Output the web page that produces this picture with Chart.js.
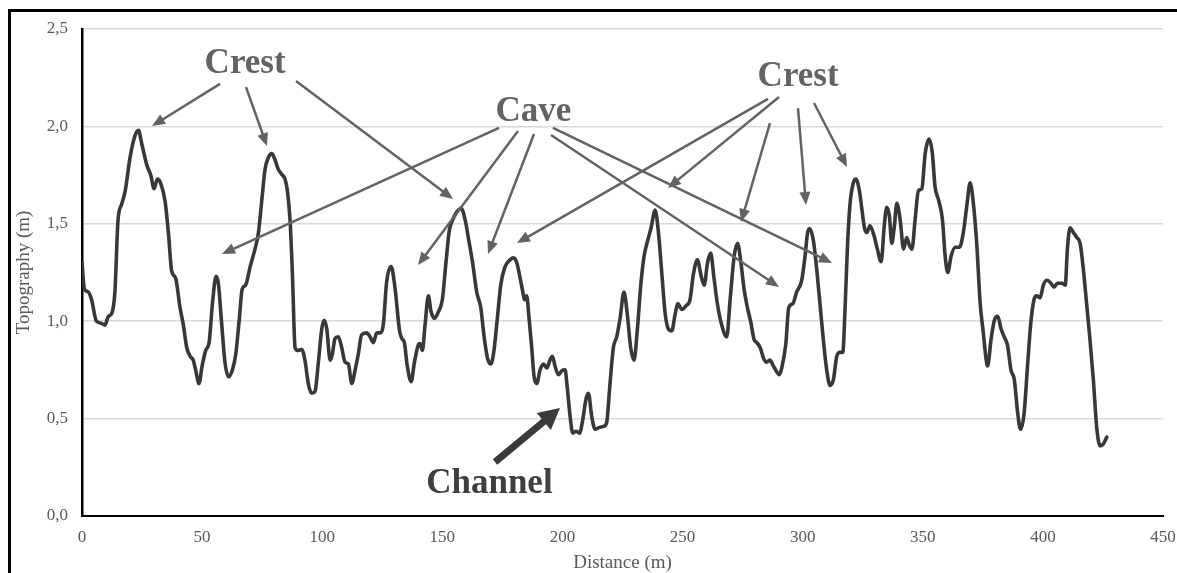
<!DOCTYPE html>
<html><head><meta charset="utf-8">
<style>html,body{margin:0;padding:0;background:#fff;}#wrap{width:1177px;height:573px;position:relative;}canvas{display:block;}</style>
<script src="https://cdn.jsdelivr.net/npm/chart.js@4.4.0/dist/chart.umd.min.js"></script>
</head><body><div id="wrap"><canvas id="c" width="1177" height="573"></canvas></div>
<script>
// ---- data ----
const distance = [0,1,2.6,4,6,8,9.5,11,12.4,13.7,15,16.5,18,20,22,23.5,24.8,27,28.6,30,31.4,32.7,34.6,36,37.3,39,40.8,42.2,43.6,45,46.3,47.3,48.7,50,51.5,52.9,54.3,55.8,56.8,58,59.5,61,62.6,64,65.4,66.7,68.1,70,72,73.4,74.8,76.2,77.6,79,80.3,81.7,83.1,84.5,85.5,86.6,87.6,88.7,89.8,91.5,92.8,94.2,95.6,97,98.4,99.8,100.8,101.9,103.3,104.2,105.3,106.7,108.1,109.5,110.9,112.3,113.7,115,116.4,118.5,119.9,121.3,122.7,124,125.4,126.8,128.7,130.3,132.2,133.2,134.2,135.4,137,138.4,139.9,140.7,141.7,142.8,144.2,145.3,146.7,148.4,150,151.5,152.9,154.3,156,157.8,159.5,160.8,162.6,164.3,166,167.4,168.8,170.2,171.5,172.9,174.3,176.1,178.2,179.6,181,182.4,183.5,184.2,185.1,186.1,187.2,188.2,189.3,190.7,192.1,193.5,194.8,195.8,196.9,198.3,199.7,201.1,202,203.2,204.3,205.7,207.1,208.4,209.8,210.8,212.2,213.6,215.4,217.1,218.4,219.8,221.2,222.6,224,225.6,227,228.4,229.8,231.2,232.6,234,235.4,236.9,238.6,240,241.4,242.8,244.1,245.5,246.9,248,249.7,251.5,253.1,254.5,256.2,257.6,259,260.4,261.7,263.1,264.5,266.3,268.4,269.8,271.5,272.9,274.3,275.6,277,278.4,279.8,280.9,282.3,283.7,285,286.4,287.8,289.5,290.3,291.3,293,294.2,295.9,297.5,299.6,301,302,303,304.5,305.9,307.2,308.6,310,311.4,312.8,314.2,315.6,316.7,317.6,318.6,319.7,321.1,322.2,323.6,324.6,325.7,326.7,328,329.7,331.1,332.7,333.9,335,336.1,337.1,338.1,339.2,340.6,342,343.3,344.4,345.5,346.8,348.2,349.6,351,352.6,354,355.1,356.5,358.2,359.3,360.4,361.8,363.5,365.3,367,368.4,369.7,371.1,372.5,373.9,375.2,376.3,377,378.4,379.8,381.2,382.6,383.9,385.3,386.7,388.1,389.5,390.7,392.2,393.6,395,396.3,397.4,398.8,400.2,401.6,403,404.7,406,407.9,409.3,410.2,411.3,412.7,414.1,415.5,416.9,418.2,419.6,421,422.4,423.8,425.2,426.6];
const topography = [1.30,1.165,1.15,1.11,1.0,0.99,0.98,1.025,1.04,1.15,1.52,1.6,1.67,1.84,1.95,1.98,1.915,1.80,1.75,1.68,1.73,1.71,1.615,1.45,1.26,1.22,1.07,0.98,0.865,0.82,0.80,0.75,0.68,0.77,0.85,0.89,1.09,1.23,1.19,1.01,0.79,0.715,0.75,0.83,1.0,1.165,1.185,1.28,1.37,1.45,1.615,1.78,1.84,1.86,1.83,1.78,1.755,1.73,1.67,1.52,1.24,0.865,0.85,0.855,0.80,0.68,0.63,0.64,0.79,0.96,1.005,0.96,0.80,0.83,0.91,0.92,0.865,0.79,0.78,0.68,0.75,0.83,0.93,0.94,0.92,0.89,0.94,0.94,0.98,1.2,1.28,1.17,0.95,0.91,0.89,0.77,0.69,0.79,0.875,0.885,0.85,0.98,1.13,1.05,1.015,1.05,1.11,1.30,1.465,1.52,1.56,1.58,1.52,1.43,1.30,1.15,1.07,0.92,0.81,0.78,0.85,1.015,1.185,1.28,1.315,1.325,1.30,1.22,1.15,1.11,1.13,1.015,0.865,0.715,0.68,0.75,0.78,0.76,0.80,0.82,0.77,0.725,0.745,0.75,0.66,0.51,0.425,0.435,0.425,0.49,0.60,0.63,0.51,0.445,0.455,0.46,0.48,0.68,0.865,0.92,1.015,1.15,1.035,0.865,0.80,0.96,1.185,1.335,1.41,1.48,1.57,1.45,1.24,1.035,0.96,0.95,1.035,1.09,1.06,1.08,1.11,1.24,1.315,1.24,1.185,1.30,1.35,1.22,1.09,0.98,0.92,1.11,1.335,1.40,1.30,1.165,1.07,0.995,0.905,0.89,0.865,0.81,0.79,0.80,0.77,0.735,0.725,0.76,0.885,1.07,1.09,1.15,1.21,1.335,1.45,1.475,1.41,1.26,1.09,0.905,0.75,0.67,0.70,0.82,0.84,0.84,1.05,1.37,1.60,1.71,1.73,1.67,1.58,1.48,1.455,1.49,1.44,1.37,1.305,1.48,1.585,1.54,1.40,1.48,1.605,1.52,1.37,1.43,1.39,1.37,1.52,1.67,1.68,1.86,1.935,1.86,1.69,1.625,1.52,1.335,1.25,1.335,1.38,1.38,1.465,1.60,1.71,1.60,1.39,1.09,0.94,0.81,0.77,0.905,1.005,1.025,0.96,0.92,0.875,0.75,0.70,0.53,0.445,0.53,0.77,0.995,1.11,1.13,1.12,1.185,1.21,1.20,1.175,1.195,1.195,1.185,1.37,1.48,1.455,1.43,1.40,1.26,1.09,0.905,0.70,0.455,0.36,0.37,0.405];
const xTicks = [0,50,100,150,200,250,300,350,400,450];
const yTicks = [0,0.5,1,1.5,2,2.5];
// annotation labels (anchor in data units: distance, topography)
const labelTexts = ['Crest','Cave','Crest','Channel'];
const labelAtX = [67.9,187.9,298.1,169.6];
const labelAtY = [2.274,2.028,2.207,0.118];
// thin arrows: from (fx,fy) to (tx,ty) in data units
const arrowFromX = [57.45,68.27,89.08,173.59,181.5,188.16,195.24,196.07,290.15,285.57,286.4,298.06,304.72];
const arrowFromY = [2.218,2.202,2.233,1.992,1.976,1.961,1.956,1.992,2.151,2.141,2.017,2.094,2.12];
const arrowToX   = [29.14,77.01,154.44,58.28,139.87,169.01,290.15,312.21,243.94,181.08,274.33,301.39,318.46];
const arrowToY   = [2.002,1.899,1.627,1.345,1.288,1.345,1.176,1.299,1.684,1.401,1.509,1.597,1.792];
// thick channel arrow
const channelArrow = [171.93,0.277,198.98,0.554];

const SERIF = '"Liberation Serif","Times New Roman",serif';

function drawArrow(ctx,x1,y1,x2,y2,lw,hl,hw,color){
  const a = Math.atan2(y2-y1,x2-x1);
  const bx = x2 - hl*Math.cos(a), by = y2 - hl*Math.sin(a);
  ctx.save();
  ctx.strokeStyle=color; ctx.fillStyle=color; ctx.lineWidth=lw; ctx.lineCap='butt';
  ctx.beginPath(); ctx.moveTo(x1,y1); ctx.lineTo(bx+Math.cos(a)*1,by+Math.sin(a)*1); ctx.stroke();
  ctx.beginPath();
  ctx.moveTo(x2,y2);
  ctx.lineTo(bx + hw*Math.sin(a), by - hw*Math.cos(a));
  ctx.lineTo(bx - hw*Math.sin(a), by + hw*Math.cos(a));
  ctx.closePath(); ctx.fill();
  ctx.restore();
}

const annotPlugin = {
  id:'annot',
  afterDatasetsDraw(chart){
    const ctx = chart.ctx, xs = chart.scales.x, ys = chart.scales.y;
    for(let i=0;i<arrowFromX.length;i++){
      drawArrow(ctx, xs.getPixelForValue(arrowFromX[i]), ys.getPixelForValue(arrowFromY[i]),
        xs.getPixelForValue(arrowToX[i]), ys.getPixelForValue(arrowToY[i]), 2.5, 13, 5.5, '#636363');
    }
    drawArrow(ctx, xs.getPixelForValue(channelArrow[0]), ys.getPixelForValue(channelArrow[1]),
      xs.getPixelForValue(channelArrow[2]), ys.getPixelForValue(channelArrow[3]), 7, 21, 11, '#3a3a3a');
    ctx.save();
    ctx.textAlign='center'; ctx.textBaseline='alphabetic';
    for(let i=0;i<labelTexts.length;i++){
      const isCh = labelTexts[i]==='Channel';
      ctx.fillStyle = isCh ? '#3f3f3f' : '#636363';
      ctx.font = 'bold 35px ' + SERIF;
      ctx.fillText(labelTexts[i], xs.getPixelForValue(labelAtX[i]), ys.getPixelForValue(labelAtY[i]));
    }
    ctx.restore();
  },
  afterDraw(chart){
    const ctx = chart.ctx;
    ctx.save(); ctx.fillStyle='#000';
    ctx.fillRect(8,9,1169,3);
    ctx.fillRect(8,9,3,564);
    ctx.restore();
  }
};

new Chart(document.getElementById('c').getContext('2d'), {
  type:'line',
  data:{datasets:[{
    data: distance.map((d,i)=>({x:d,y:topography[i]})),
    borderColor:'#383838', borderWidth:3.6, pointRadius:0, fill:false,
    cubicInterpolationMode:'monotone', borderJoinStyle:'round', borderCapStyle:'round'
  }]},
  options:{
    responsive:false, animation:false, devicePixelRatio:1,
    layout:{padding:{left:0,right:14,top:29,bottom:0}},
    plugins:{legend:{display:false},tooltip:{enabled:false}},
    scales:{
      x:{type:'linear',min:0,max:450,
        afterBuildTicks:s=>{s.ticks=xTicks.map(v=>({value:v}));},
        grid:{color:'rgba(0,0,0,0)',drawTicks:false},
        border:{color:'#000',width:2},
        ticks:{padding:11,color:'#595959',font:{family:SERIF,size:17},maxRotation:0,autoSkip:false},
        title:{display:true,text:'Distance (m)',color:'#595959',font:{family:SERIF,size:19,lineHeight:1},padding:{top:0,bottom:0}},
        afterFit:s=>{s.height=57; s.paddingLeft=0; s.paddingRight=0;}
      },
      y:{type:'linear',min:0,max:2.5,
        afterBuildTicks:s=>{s.ticks=yTicks.map(v=>({value:v}));},
        grid:{color:'#d9d9d9',lineWidth:1.5,drawTicks:false},
        border:{color:'#000',width:2.5},
        ticks:{padding:14,color:'#595959',font:{family:SERIF,size:17},callback:v=>v.toFixed(1).replace('.',',')},
        title:{display:true,text:'Topography (m)',color:'#595959',font:{family:SERIF,size:19},padding:{top:13,bottom:0}},
        afterFit:s=>{s.width=82; s.paddingTop=0; s.paddingBottom=0;}
      }
    }
  },
  plugins:[annotPlugin]
});
</script></body></html>
